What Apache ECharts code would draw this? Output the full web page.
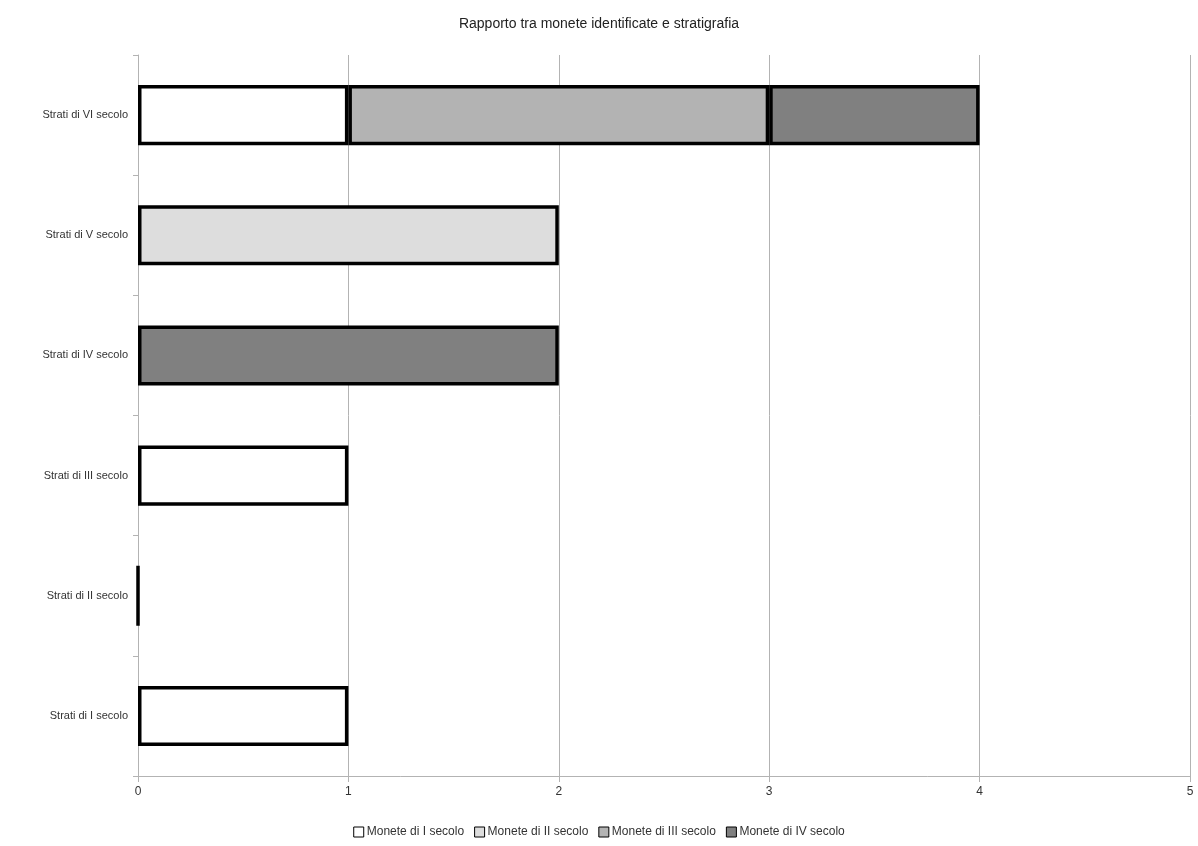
<!DOCTYPE html>
<html>
<head>
<meta charset="utf-8">
<script src="https://cdn.jsdelivr.net/npm/echarts@6/dist/echarts.min.js"></script>
<style>html,body{margin:0;padding:0;background:#fff}#c{width:1198px;height:846px}</style>
</head>
<body>
<div id="c"></div>
<script>
const categories = ['Strati di I secolo','Strati di II secolo','Strati di III secolo','Strati di IV secolo','Strati di V secolo','Strati di VI secolo'];
const seriesNames = ['Monete di I secolo','Monete di II secolo','Monete di III secolo','Monete di IV secolo'];
const moneteI   = [1, 0, 1, '-', '-', 1];
const moneteII  = ['-', '-', '-', '-', 2, '-'];
const moneteIII = ['-', '-', '-', '-', '-', 2];
const moneteIV  = ['-', '-', '-', 2, '-', 1];
const xTicks = [0, 1, 2, 3, 4, 5];
const colors = ['#ffffff', '#dddddd', '#b3b3b3', '#808080'];

const font = 'Liberation Sans, Arial, sans-serif';
const chart = echarts.init(document.getElementById('c'), null, {renderer: 'canvas'});
const allData = [moneteI, moneteII, moneteIII, moneteIV];
chart.setOption({
  animation: false,
  title: {
    text: 'Rapporto tra monete identificate e stratigrafia',
    left: 'center', top: 12,
    textStyle: {fontFamily: font, fontSize: 14, fontWeight: 'normal', color: '#222'}
  },
  legend: {
    bottom: 3, left: 'center', icon: 'rect',
    itemWidth: 10, itemHeight: 10, itemGap: 10,
    textStyle: {fontFamily: font, fontSize: 12, color: '#333', padding: [0, 0, 0, -2]},
    itemStyle: {borderWidth: 1, borderColor: '#000'},
    data: seriesNames
  },
  grid: {left: 138, right: 8, top: 55, bottom: 70},
  xAxis: {
    type: 'value', min: xTicks[0], max: xTicks[xTicks.length - 1], interval: 1,
    axisLine: {show: true, lineStyle: {color: '#b3b3b3'}},
    axisTick: {show: true, length: 6, lineStyle: {color: '#b3b3b3'}},
    splitLine: {show: true, lineStyle: {color: '#b3b3b3'}},
    axisLabel: {fontFamily: font, fontSize: 12, color: '#333', margin: 10}
  },
  yAxis: {
    type: 'category', data: categories,
    axisLine: {show: true, lineStyle: {color: '#b3b3b3'}},
    axisTick: {show: true, length: 5, lineStyle: {color: '#b3b3b3'}},
    axisLabel: {fontFamily: font, fontSize: 11, color: '#333', margin: 10}
  },
  series: seriesNames.map((n, i) => ({
    name: n, type: 'bar', stack: 'tot', barWidth: '50%',
    data: allData[i],
    itemStyle: {color: colors[i], borderColor: '#000', borderWidth: 3.5}
  }))
});
</script>
</body>
</html>
